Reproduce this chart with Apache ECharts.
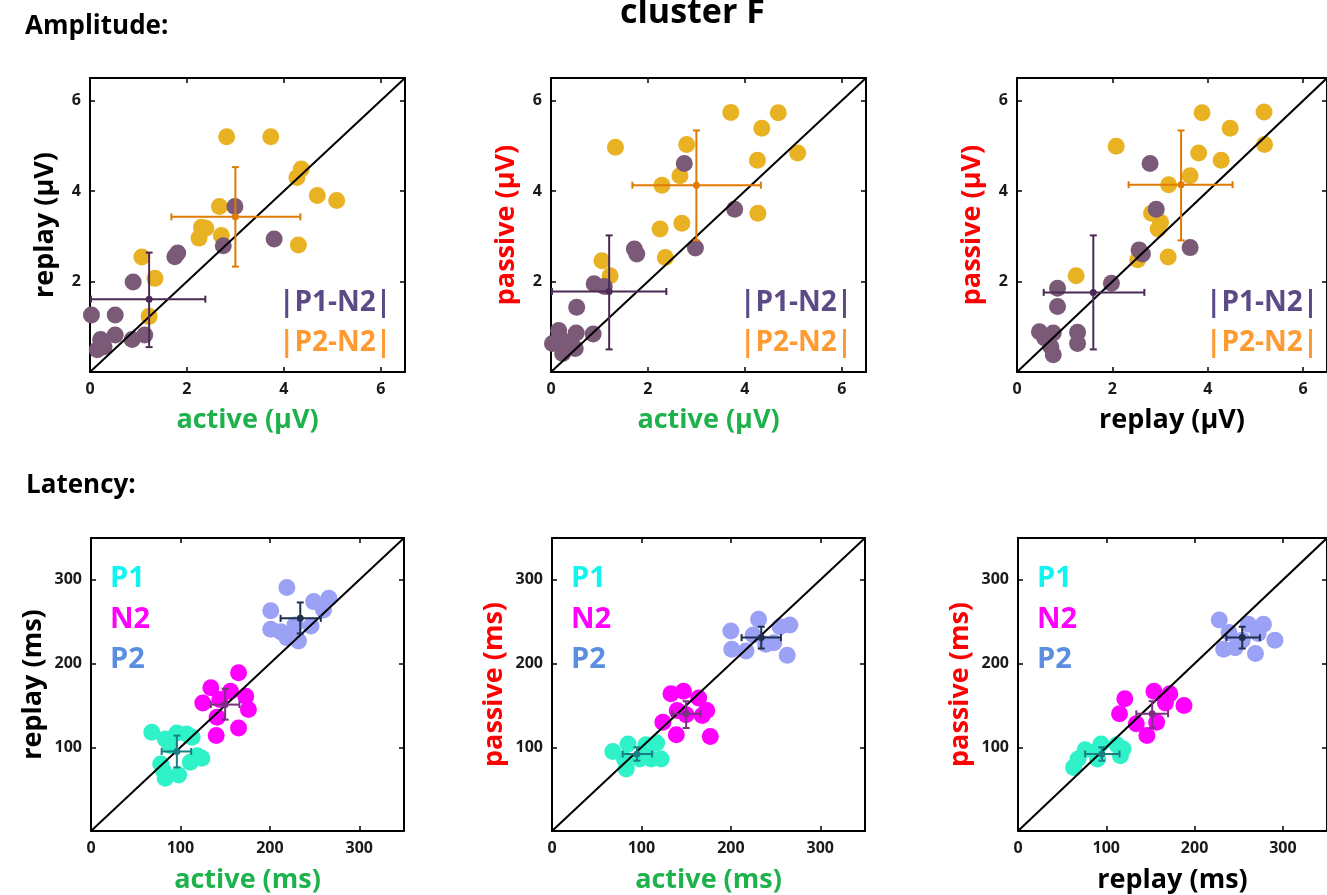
<!DOCTYPE html>
<html>
<head>
<meta charset="utf-8">
<script src="https://cdn.jsdelivr.net/npm/echarts@6/dist/echarts.min.js"></script>
<style>html,body{margin:0;padding:0;background:#fff}#c{width:1327px;height:895px}</style>
</head>
<body>
<div id="c"></div>
<script>
// ---------- ranges / ticks ----------
const ampRange = [0, 6.5];
const latRange = [0, 350];
const ampTickStep = 2;
const latTickStep = 100;

// ---------- Amplitude: replay vs active ----------
const ampRA_P1N2 = [[0.03,1.26],[0.52,1.26],[0.22,0.72],[0.15,0.49],[0.29,0.56],[0.52,0.82],[0.87,0.72],[1.13,0.82],[0.89,1.99],[1.75,2.55],[1.81,2.63],[2.75,2.79],[2.99,3.66],[3.80,2.94]];
const ampRA_P2N2 = [[2.82,5.20],[3.73,5.20],[4.36,4.49],[4.27,4.30],[4.69,3.90],[5.09,3.79],[2.67,3.66],[2.30,3.20],[2.39,3.18],[2.25,2.96],[2.71,3.02],[4.30,2.81],[1.07,2.54],[1.34,2.07],[1.22,1.23]];
// mean x, mean y, x low, x high, y low, y high
const ampRA_P1N2_mean = [1.22,1.61,0.02,2.38,0.55,2.64];
const ampRA_P2N2_mean = [3.00,3.43,1.68,4.34,2.33,4.53];

// ---------- Amplitude: passive vs active ----------
const ampPA_P1N2 = [[0.03,0.63],[0.16,0.92],[0.24,0.41],[0.31,0.67],[0.50,0.52],[0.52,0.86],[0.53,1.43],[0.87,0.84],[0.89,1.95],[1.10,1.89],[1.72,2.72],[1.77,2.61],[2.75,4.61],[2.98,2.74],[3.79,3.60]];
const ampPA_P2N2 = [[1.33,4.97],[2.80,5.03],[3.71,5.74],[4.69,5.73],[4.35,5.39],[4.26,4.68],[5.09,4.84],[2.66,4.34],[2.29,4.13],[4.27,3.51],[2.70,3.29],[2.25,3.16],[2.36,2.53],[1.05,2.46],[1.22,2.13]];
const ampPA_P1N2_mean = [1.20,1.78,0.02,2.38,0.50,3.02];
const ampPA_P2N2_mean = [3.00,4.13,1.68,4.33,2.91,5.34];

// ---------- Amplitude: passive vs replay ----------
const ampPR_P1N2 = [[0.47,0.89],[0.58,0.75],[0.76,0.86],[0.71,0.56],[0.76,0.38],[0.85,1.85],[0.85,1.45],[1.27,0.88],[1.27,0.63],[1.98,1.96],[2.56,2.70],[2.63,2.61],[2.79,4.61],[2.92,3.60],[3.63,2.75]];
const ampPR_P2N2 = [[1.24,2.13],[2.53,2.48],[3.17,2.54],[2.82,3.51],[3.01,3.31],[2.96,3.16],[3.18,4.14],[3.63,4.34],[2.08,4.99],[3.81,4.84],[4.28,4.68],[3.88,5.73],[4.47,5.39],[5.18,5.75],[5.19,5.03]];
const ampPR_P1N2_mean = [1.60,1.76,0.56,2.67,0.50,3.02];
const ampPR_P2N2_mean = [3.44,4.14,2.34,4.52,2.91,5.34];

// ---------- Latency: replay vs active ----------
const latRA_P1 = [[68,118],[83,110],[96,117],[107,116],[113,112],[88,102],[119,90],[124,87],[111,82],[78,80],[81,72],[83,63],[98,67]];
const latRA_N2 = [[165,189],[134,171],[156,167],[173,161],[125,153],[144,157],[176,145],[141,136],[140,114],[165,123]];
const latRA_P2 = [[219,291],[201,263],[249,274],[266,278],[260,264],[228,246],[246,245],[201,241],[212,238],[219,231],[232,227]];
const latRA_P1_mean = [96,95,79,112,76,114];
const latRA_N2_mean = [150,151,134,166,133,170];
const latRA_P2_mean = [234,254,212,257,236,273];

// ---------- Latency: passive vs active ----------
const latPA_P1 = [[68,95],[85,104],[105,103],[117,105],[98,86],[111,86],[122,86],[81,86],[83,74]];
const latPA_N2 = [[133,164],[147,167],[164,159],[173,144],[168,138],[140,144],[124,130],[139,115],[177,113],[150,139]];
const latPA_P2 = [[200,239],[231,253],[266,246],[255,244],[201,217],[217,215],[239,223],[248,225],[225,234],[263,210]];
const latPA_P1_mean = [95,92,79,112,84,100];
const latPA_N2_mean = [150,140,134,166,123,155];
const latPA_P2_mean = [234,231,212,256,218,244];

// ---------- Latency: passive vs replay ----------
const latPR_P1 = [[63,76],[68,86],[76,97],[88,95],[94,104],[90,86],[112,103],[116,90],[119,98]];
const latPR_N2 = [[121,158],[115,140],[154,167],[172,164],[167,153],[188,150],[134,128],[157,130],[146,114]];
const latPR_P2 = [[228,252],[239,237],[261,247],[278,247],[272,236],[291,228],[233,217],[246,219],[269,212],[254,228]];
const latPR_P1_mean = [95,92,76,115,84,100];
const latPR_N2_mean = [152,140,134,170,123,155];
const latPR_P2_mean = [254,231,236,274,218,244];

// ---------- colours ----------
const C = {
  purplePt:'#7b5a78', yellowPt:'#e9b223', purpleBar:'#4b2a55', orangeBar:'#e07a00',
  cyanPt:'#2ff2c9', magentaPt:'#ff00ff', bluePt:'#9ba2f6',
  cyanBar:'#1a7f82', magentaBar:'#7b2f80', blueBar:'#1f2f4f',
  green:'#1db24b', red:'#ff0000', black:'#000'
};
const FONT = '"Open Sans", "DejaVu Sans", sans-serif';

// ---------- layout ----------
const ampGrids = [
  {left:90, top:78, width:315, height:294},
  {left:551, top:78, width:315, height:294},
  {left:1017, top:78, width:315, height:294}
];
const latGrids = [
  {left:91, top:538, width:313, height:294},
  {left:552, top:538, width:313, height:294},
  {left:1018, top:538, width:313, height:294}
];
const grids = ampGrids.concat(latGrids);

const xAxes = [], yAxes = [], series = [];
const axisLine = {show:true, onZero:false, lineStyle:{color:'#000', width:2}};
const axisTick = {show:true, inside:true, length:5, lineStyle:{color:'#000', width:1.5}};
const tickLbl = {color:'#1a1a1a', fontWeight:'bold', fontSize:16, fontFamily:FONT};

function addAxes(gi, range, step, xName, xColor, yName, yColor) {
  const base = {type:'value', gridIndex:gi, min:range[0], max:range[1], interval:step, splitLine:{show:false}, axisLine, axisTick};
  const nameStyle = (col)=>({color:col, fontWeight:'bold', fontSize:27, fontFamily:FONT});
  const isMs = yName.indexOf('ms')>=0;
  const xi = xAxes.length;
  xAxes.push(Object.assign({}, base, {position:'bottom', name:xName, nameLocation:'middle', nameGap:isMs?36:35, nameTextStyle:nameStyle(xColor),
    axisLabel:Object.assign({}, tickLbl, {margin:9, showMaxLabel:false, formatter:v=>String(v)})}));
  xAxes.push(Object.assign({}, base, {position:'top', axisLabel:{show:false}}));
  const yi = yAxes.length;
  yAxes.push(Object.assign({}, base, {position:'left', name:yName, nameLocation:'middle', nameGap:isMs?44:31, nameTextStyle:nameStyle(yColor),
    axisLabel:Object.assign({}, tickLbl, {margin:9, showMaxLabel:false, formatter:v=>v===0?'':String(v)})}));
  yAxes.push(Object.assign({}, base, {position:'right', axisLabel:{show:false}}));
  return {xi, yi};
}

function errRender(color) {
  return function(params, api) {
    const mx = api.value(0), my = api.value(1);
    const c = api.coord([mx, my]);
    const xl = api.coord([api.value(2), my]);
    const xh = api.coord([api.value(3), my]);
    const yl = api.coord([mx, api.value(4)]);
    const yh = api.coord([mx, api.value(5)]);
    const cap = 3.5;
    const st = {stroke:color, lineWidth:2};
    const L = (x1,y1,x2,y2)=>({type:'line', shape:{x1,y1,x2,y2}, style:st});
    return {type:'group', children:[
      L(xl[0],xl[1],xh[0],xh[1]),
      L(yl[0],yl[1],yh[0],yh[1]),
      L(xl[0],xl[1]-cap,xl[0],xl[1]+cap),
      L(xh[0],xh[1]-cap,xh[0],xh[1]+cap),
      L(yl[0]-cap,yl[1],yl[0]+cap,yl[1]),
      L(yh[0]-cap,yh[1],yh[0]+cap,yh[1]),
      {type:'circle', shape:{cx:c[0], cy:c[1], r:3.5}, style:{fill:color}}
    ]};
  };
}

function addPanel(gi, range, step, xName, xColor, yName, yColor, groups) {
  const {xi, yi} = addAxes(gi, range, step, xName, xColor, yName, yColor);
  series.push({type:'line', xAxisIndex:xi, yAxisIndex:yi, data:[[range[0],range[0]],[range[1],range[1]]],
    symbol:'none', lineStyle:{color:'#000', width:2}, silent:true, z:3});
  groups.forEach(g=>{
    series.push({type:'scatter', xAxisIndex:xi, yAxisIndex:yi, data:g.pts, symbolSize:17,
      itemStyle:{color:g.pt, opacity:1}, z:2});
  });
  groups.forEach(g=>{
    series.push({type:'custom', xAxisIndex:xi, yAxisIndex:yi, data:[g.mean], renderItem:errRender(g.bar), z:5});
  });
}

addPanel(0, ampRange, ampTickStep, 'active (µV)', C.green, 'replay (µV)', C.black, [
  {pts:ampRA_P2N2, mean:ampRA_P2N2_mean, pt:C.yellowPt, bar:C.orangeBar},
  {pts:ampRA_P1N2, mean:ampRA_P1N2_mean, pt:C.purplePt, bar:C.purpleBar}]);
addPanel(1, ampRange, ampTickStep, 'active (µV)', C.green, 'passive (µV)', C.red, [
  {pts:ampPA_P2N2, mean:ampPA_P2N2_mean, pt:C.yellowPt, bar:C.orangeBar},
  {pts:ampPA_P1N2, mean:ampPA_P1N2_mean, pt:C.purplePt, bar:C.purpleBar}]);
addPanel(2, ampRange, ampTickStep, 'replay (µV)', C.black, 'passive (µV)', C.red, [
  {pts:ampPR_P2N2, mean:ampPR_P2N2_mean, pt:C.yellowPt, bar:C.orangeBar},
  {pts:ampPR_P1N2, mean:ampPR_P1N2_mean, pt:C.purplePt, bar:C.purpleBar}]);
addPanel(3, latRange, latTickStep, 'active (ms)', C.green, 'replay (ms)', C.black, [
  {pts:latRA_P1, mean:latRA_P1_mean, pt:C.cyanPt, bar:C.cyanBar},
  {pts:latRA_N2, mean:latRA_N2_mean, pt:C.magentaPt, bar:C.magentaBar},
  {pts:latRA_P2, mean:latRA_P2_mean, pt:C.bluePt, bar:C.blueBar}]);
addPanel(4, latRange, latTickStep, 'active (ms)', C.green, 'passive (ms)', C.red, [
  {pts:latPA_P1, mean:latPA_P1_mean, pt:C.cyanPt, bar:C.cyanBar},
  {pts:latPA_N2, mean:latPA_N2_mean, pt:C.magentaPt, bar:C.magentaBar},
  {pts:latPA_P2, mean:latPA_P2_mean, pt:C.bluePt, bar:C.blueBar}]);
addPanel(5, latRange, latTickStep, 'replay (ms)', C.black, 'passive (ms)', C.red, [
  {pts:latPR_P1, mean:latPR_P1_mean, pt:C.cyanPt, bar:C.cyanBar},
  {pts:latPR_N2, mean:latPR_N2_mean, pt:C.magentaPt, bar:C.magentaBar},
  {pts:latPR_P2, mean:latPR_P2_mean, pt:C.bluePt, bar:C.blueBar}]);

// ---------- texts ----------
const graphic = [];
function txt(x, y, s, size, color, align) {
  graphic.push({type:'text', left:x, top:y, z:10, style:{text:s, fill:color, font:'bold '+size+'px '+FONT, textAlign:align||'left'}});
}
txt(25, 14, 'Amplitude:', 26, '#000');
txt(620, -4, 'cluster F', 34, '#000');
txt(26, 473, 'Latency:', 26, '#000');
const ampLegX = [279, 740, 1206];
ampLegX.forEach(x=>{
  txt(x, 289, '|P1-N2|', 28, '#5b4a86');
  txt(x, 329, '|P2-N2|', 28, '#ff9a33');
});
const latLegX = [110, 571, 1037];
latLegX.forEach(x=>{
  txt(x, 564, 'P1', 29, '#11f5f0');
  txt(x, 605, 'N2', 29, '#ff00ff');
  txt(x, 645, 'P2', 29, '#5b8ee0');
});

const chart = echarts.init(document.getElementById('c'), null, {renderer:'canvas'});
chart.setOption({
  animation:false,
  backgroundColor:'#fff',
  grid:grids,
  xAxis:xAxes,
  yAxis:yAxes,
  series:series,
  graphic:graphic
});
</script>
</body>
</html>
